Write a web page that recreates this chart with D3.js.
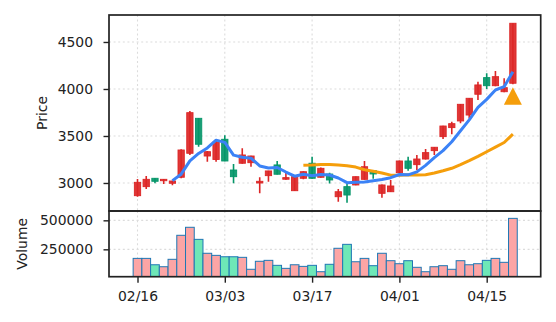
<!DOCTYPE html>
<html>
<head>
<meta charset="utf-8">
<script src="https://cdn.jsdelivr.net/npm/d3@7"></script>
<style>
  html, body { margin: 0; padding: 0; background: #fff; }
  svg { display: block; font-family: "DejaVu Sans", sans-serif; }
</style>
</head>
<body>
<svg id="chart" width="556" height="322"></svg>
<script>
// Daily session labels (MM/DD)
const dates = [
  "02/16","02/17","02/18","02/19","02/20","02/24","02/25","02/26","02/27","03/02",
  "03/03","03/04","03/05","03/06","03/09","03/10","03/11","03/12","03/13","03/16",
  "03/17","03/18","03/19","03/20","03/23","03/24","03/25","03/26","03/27","03/30",
  "04/01","04/02","04/03","04/06","04/07","04/08","04/09","04/10","04/13","04/14",
  "04/15","04/16","04/17","04/20"
];
const open  = [2865,2961,3050,3024,2997,3061,3316,3688,3287,3250,
               3465,3138,3210,3216,3000,3078,3192,3040,2918,3050,
               3210,3061,3095,2854,2961,2979,3039,3131,2890,2907,
               3110,3234,3195,3255,3344,3493,3589,3660,3723,3944,
               4121,4035,3971,4061];
const high  = [3043,3074,3052,3042,3025,3360,3766,3690,3340,3465,
               3507,3202,3369,3290,3060,3130,3234,3110,3070,3125,
               3280,3165,3110,2935,2996,3070,3234,3135,2985,3032,
               3240,3280,3298,3362,3383,3610,3652,3840,3905,4078,
               4167,4192,4114,4700];
const low   = [2854,2936,2997,2989,2975,3050,3298,3386,3227,3227,
               3230,2996,3205,3173,2890,3014,3090,3035,2915,3039,
               3045,3055,2995,2801,2790,2975,3035,3046,2844,2905,
               3105,3131,3138,3250,3298,3468,3518,3635,3688,3883,
               4000,4030,3965,4050];
const close = [3007,3039,3018,3039,3021,3351,3748,3412,3333,3435,
               3234,3067,3298,3287,3018,3128,3093,3057,3067,3120,
               3050,3156,3032,2907,2872,3067,3173,3096,2979,2968,
               3234,3156,3255,3323,3380,3606,3631,3837,3901,4043,
               4035,4131,4014,4699];
const volume = [172000,172000,117000,100000,164000,371000,440000,336000,216000,198000,
                186000,186000,181000,78000,147000,155000,112000,86000,117000,103000,
                112000,57000,121000,259000,293000,143000,172000,109000,216000,152000,
                126000,152000,95000,57000,100000,109000,78000,152000,117000,126000,
                155000,172000,138000,517000];
// Buy signal markers
const signalIndex = [43];
const signalPrice = [3926];

const tickIndex = [0, 10, 20, 30, 40];
const priceTicks = [3000, 3500, 4000, 4500];
const volumeTicks = [250000, 500000];

// Moving averages of the close
function movingAverage(values, n) {
  return values.map((_, i) => i < n - 1 ? null : d3.mean(values.slice(i - n + 1, i + 1)));
}
const ma5 = movingAverage(close, 5);
const ma20 = movingAverage(close, 20);

const UP = "#dc2626", DOWN = "#059669";
const UP_VOL = "#fca5a5", DOWN_VOL = "#6ee7b7";

const svg = d3.select("#chart");
const left = 109, right = 540.7;
const pTop = 15, pBottom = 211, vTop = 211, vBottom = 276.7;
const fontSize = 13.9;

const x = d3.scaleLinear().domain([-3.265, 46.186]).range([left, right]);
const yP = d3.scaleLinear().domain([2702, 4787]).range([pBottom, pTop]);
const yV = d3.scaleLinear().domain([14050, 580460]).range([vBottom, vTop]);
const step = x(1) - x(0);

const defs = svg.append("defs");
defs.append("clipPath").attr("id", "clipP").append("rect")
  .attr("x", left).attr("y", pTop).attr("width", right - left).attr("height", pBottom - pTop);
defs.append("clipPath").attr("id", "clipV").append("rect")
  .attr("x", left).attr("y", vTop).attr("width", right - left).attr("height", vBottom - vTop);

const gridStyle = g => g.attr("stroke", "#dcdcdc").attr("stroke-width", 1.1)
  .attr("stroke-dasharray", "2,2.6");

// Grid lines
const grid = svg.append("g");
grid.selectAll(".gpy").data(priceTicks).join("line")
  .attr("x1", left).attr("x2", right).attr("y1", d => yP(d)).attr("y2", d => yP(d)).call(gridStyle);
grid.selectAll(".gvy").data(volumeTicks).join("line")
  .attr("x1", left).attr("x2", right).attr("y1", d => yV(d)).attr("y2", d => yV(d)).call(gridStyle);
grid.selectAll(".gpx").data(tickIndex).join("line")
  .attr("x1", d => x(d)).attr("x2", d => x(d)).attr("y1", pTop).attr("y2", pBottom).call(gridStyle);
grid.selectAll(".gvx").data(tickIndex).join("line")
  .attr("x1", d => x(d)).attr("x2", d => x(d)).attr("y1", vTop).attr("y2", vBottom).call(gridStyle);

// Candles
const idx = d3.range(dates.length);
const candles = svg.append("g").attr("clip-path", "url(#clipP)");
const colorOf = i => close[i] >= open[i] ? UP : DOWN;
candles.selectAll(".wick").data(idx).join("line")
  .attr("x1", i => x(i)).attr("x2", i => x(i))
  .attr("y1", i => yP(high[i])).attr("y2", i => yP(low[i]))
  .attr("stroke", colorOf).attr("stroke-width", 1.6);
const bodyW = step * 0.72;
candles.selectAll(".body").data(idx).join("rect")
  .attr("x", i => x(i) - bodyW / 2)
  .attr("width", bodyW)
  .attr("y", i => yP(Math.max(open[i], close[i])))
  .attr("height", i => Math.max(1.2, Math.abs(yP(open[i]) - yP(close[i]))))
  .attr("fill", colorOf).attr("fill-opacity", 0.92)
  .attr("stroke", colorOf).attr("stroke-width", 0.9);

// Moving average lines
const line = d3.line().defined(d => d[1] != null).x(d => x(d[0])).y(d => yP(d[1]));
candles.append("path").datum(ma20.map((v, i) => [i, v]))
  .attr("d", line).attr("fill", "none").attr("stroke", "#f59e0b").attr("stroke-width", 3)
  .attr("stroke-linejoin", "round");
candles.append("path").datum(ma5.map((v, i) => [i, v]))
  .attr("d", line).attr("fill", "none").attr("stroke", "#3b82f6").attr("stroke-width", 3)
  .attr("stroke-linejoin", "round");

// Signal markers
candles.selectAll(".sig").data(signalIndex).join("path")
  .attr("transform", (d, k) => `translate(${x(d)},${yP(signalPrice[k])})`)
  .attr("d", "M0,-8.8L9,8.8L-9,8.8Z")
  .attr("fill", "#f59e0b");

// Volume bars
const vol = svg.append("g").attr("clip-path", "url(#clipV)");
const barW = step;
vol.selectAll(".vbar").data(idx).join("rect")
  .attr("x", i => x(i) - barW / 2)
  .attr("width", barW)
  .attr("y", i => yV(volume[i]))
  .attr("height", i => vBottom + 2 - yV(volume[i]))
  .attr("fill", i => close[i] >= open[i] ? UP_VOL : DOWN_VOL)
  .attr("stroke", "#1f77b4").attr("stroke-width", 1);

// Axes
const axisStyle = g => {
  g.select(".domain").remove();
  g.selectAll(".tick line").attr("stroke", "#222").attr("stroke-width", 1.4);
  g.selectAll(".tick text").attr("fill", "#222").style("font-size", fontSize + "px")
    .style("font-family", "DejaVu Sans, sans-serif");
};
svg.append("g").attr("transform", `translate(${left},0)`)
  .call(d3.axisLeft(yP).tickValues(priceTicks).tickSize(5.5).tickPadding(10.5).tickFormat(d3.format("d")))
  .call(axisStyle);
svg.append("g").attr("transform", `translate(${left},0)`)
  .call(d3.axisLeft(yV).tickValues(volumeTicks).tickSize(5.5).tickPadding(10.5).tickFormat(d3.format("d")))
  .call(axisStyle);
svg.append("g").attr("transform", `translate(0,${vBottom})`)
  .call(d3.axisBottom(x).tickValues(tickIndex).tickSize(6).tickPadding(8).tickFormat(i => dates[i]))
  .call(axisStyle);

// Panel frames
const frame = svg.append("g").attr("fill", "none").attr("stroke", "#222").attr("stroke-width", 1.7);
frame.append("rect").attr("x", left).attr("y", pTop).attr("width", right - left).attr("height", pBottom - pTop);
frame.append("rect").attr("x", left).attr("y", vTop).attr("width", right - left).attr("height", vBottom - vTop);

// Axis titles
svg.append("text").attr("transform", `translate(46.5,${(pTop + pBottom) / 2}) rotate(-90)`)
  .attr("text-anchor", "middle").style("font-size", fontSize + "px").attr("fill", "#222").text("Price");
svg.append("text").attr("transform", `translate(26.5,${(vTop + vBottom) / 2}) rotate(-90)`)
  .attr("text-anchor", "middle").style("font-size", fontSize + "px").attr("fill", "#222").text("Volume");
</script>
</body>
</html>
